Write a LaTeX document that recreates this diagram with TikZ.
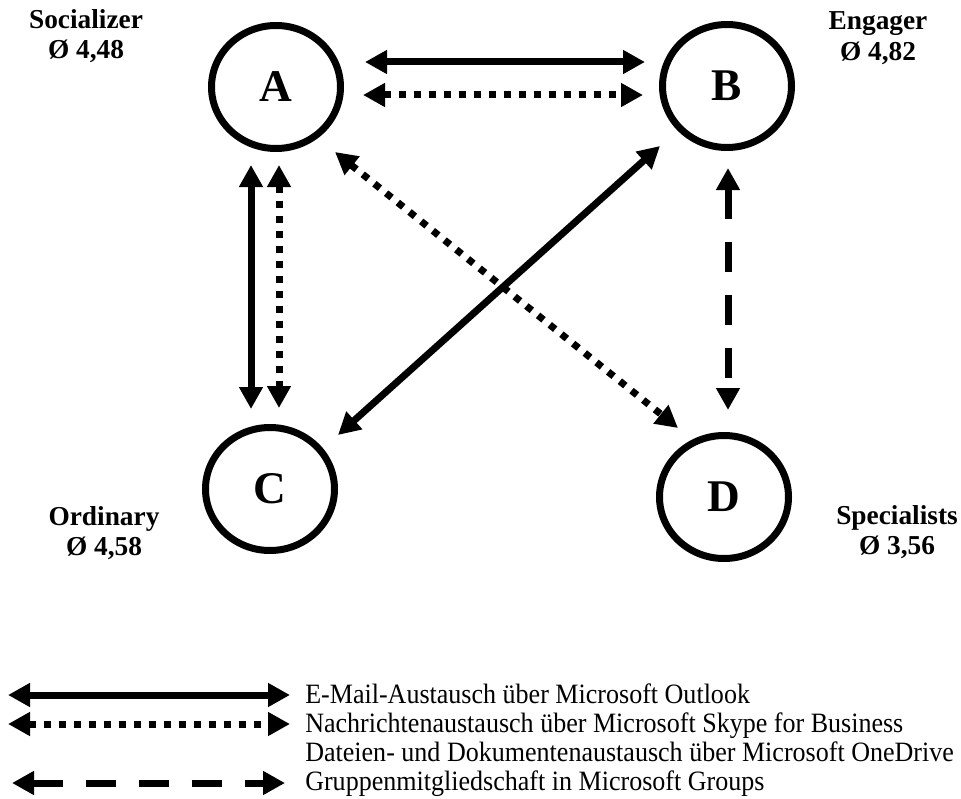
\documentclass[tikz,border=0pt]{standalone}
\usepackage{fontspec}
\setmainfont{Liberation Serif}
\usetikzlibrary{arrows.meta,shapes.geometric}

\newcommand{\narrowtext}[1]{\scalebox{0.93}[1]{#1}}

\begin{document}
\begin{tikzpicture}[x=0.75pt,y=-0.75pt,
  actor/.style={draw,ellipse,line width=5.25pt,minimum width=96.75pt,
    minimum height=92.25pt,inner sep=0pt,font=\fontsize{34}{40}\selectfont\bfseries},
  role/.style={align=center,inner sep=0pt,font=\fontsize{20.5}{23}\selectfont\bfseries},
  legtext/.style={anchor=base west,inner sep=0pt,font=\fontsize{21}{22}\selectfont},
  link/.style={line width=5.25pt,{Triangle[length=16.5pt,width=17pt]}-{Triangle[length=16.5pt,width=17pt]}},
  mail/.style={link},
  chat/.style={link,dash pattern=on 5.25pt off 6pt},
  group/.style={link,dash pattern=on 22.5pt off 17.25pt}
]
\useasboundingbox (0,0) rectangle (961,799);

% the four user groups
\node[actor] (A) at (276,87) {A};
\node[actor] (B) at (727,86) {B};
\node[actor] (C) at (270,489) {C};
\node[actor] (D) at (724,497) {D};

% group names and mean values
\node[role] (sA) at (86,36) {Socializer\\Ø 4,48};
\node[role] (sB) at (878,38) {Engager\\Ø 4,82};
\node[role] (sC) at (104,533) {Ordinary\\Ø 4,58};
\node[role] (sD) at (897,532) {Specialists\\Ø 3,56};

% connector end points beside the circles
\coordinate (ab1) at (365,62);  \coordinate (ba1) at (645,62);
\coordinate (ab2) at (363,95);  \coordinate (ba2) at (643,95);
\coordinate (ac1) at (251,165); \coordinate (ca1) at (251,409);
\coordinate (ac2) at (279,165); \coordinate (ca2) at (279,408);
\coordinate (cb)  at (338,435); \coordinate (bc)  at (660,146);
\coordinate (ad)  at (335,152); \coordinate (da)  at (678,428);
\coordinate (bd)  at (728,168); \coordinate (db)  at (728,410);

\draw[mail] (ab1) -- (ba1);
\draw[chat] (ab2) -- (ba2);
\draw[mail] (ac1) -- (ca1);
\draw[chat] (ac2) -- (ca2);
\draw[mail] (cb) -- (bc);
\draw[chat] (ad) -- (da);
\draw[group] (bd) -- (db);

% legend
\coordinate (l1a) at (8,695);  \coordinate (l1b) at (290,695);
\coordinate (l2a) at (8,724);  \coordinate (l2b) at (290,724);
\coordinate (l4a) at (12,783); \coordinate (l4b) at (285,783);
\draw[mail] (l1a) -- (l1b);
\draw[chat] (l2a) -- (l2b);
\draw[group] (l4a) -- (l4b);

\node[legtext] (t1) at (305,703) {\narrowtext{E-Mail-Austausch über Microsoft Outlook}};
\node[legtext] (t2) at (305,732) {\narrowtext{Nachrichtenaustausch über Microsoft Skype for Business}};
\node[legtext] (t3) at (305,761) {\narrowtext{Dateien- und Dokumentenaustausch über Microsoft OneDrive}};
\node[legtext] (t4) at (305,790) {\narrowtext{Gruppenmitgliedschaft in Microsoft Groups}};
\end{tikzpicture}
\end{document}
